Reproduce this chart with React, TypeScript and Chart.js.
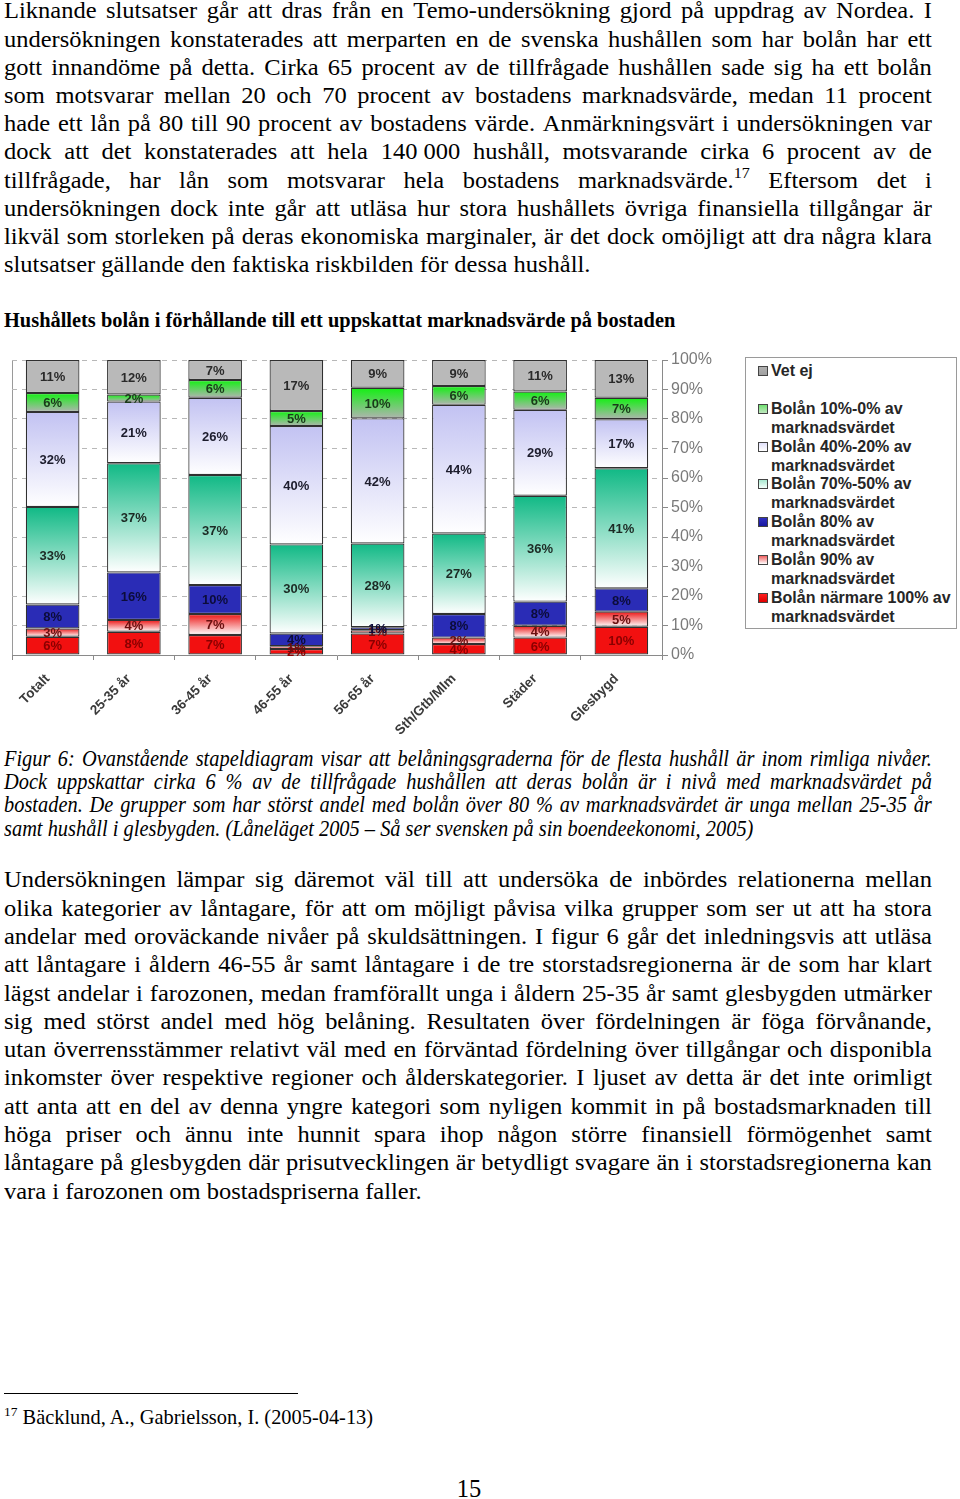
import React, { useEffect, useRef } from 'react';
import { Chart, registerables } from 'chart.js';

Chart.register(...registerables);

// ---------------- data ----------------
const categories = ['Totalt', '25-35 år', '36-45 år', '46-55 år', '56-65 år', 'Sth/Gtb/Mlm', 'Städer', 'Glesbygd'];

// shares in percent (bottom segment first)
const bolanNara100 = [6.2, 7.9, 6.8, 2.0, 7.3, 3.7, 5.9, 9.6];
const bolan90 = [2.8, 4.0, 7.1, 1.0, 1.1, 2.2, 4.0, 5.1];
const bolan80 = [8.1, 16.1, 9.8, 4.3, 1.0, 8.0, 8.2, 7.9];
const bolan70_50 = [33.1, 37.0, 37.3, 30.2, 28.4, 27.3, 35.9, 40.7];
const bolan40_20 = [32.2, 20.9, 26.2, 40.1, 42.4, 43.6, 29.1, 16.6];
const bolan10_0 = [6.4, 2.4, 6.0, 5.1, 10.4, 6.4, 6.2, 7.3];
const vetEj = [11.2, 11.7, 6.8, 17.3, 9.4, 8.8, 10.7, 12.8];

const seriesNames = [
  'Bolån närmare 100% av marknadsvärdet',
  'Bolån 90% av marknadsvärdet',
  'Bolån 80% av marknadsvärdet',
  'Bolån 70%-50% av marknadsvärdet',
  'Bolån 40%-20% av marknadsvärdet',
  'Bolån 10%-0% av marknadsvärdet',
  'Vet ej',
];
const seriesValues = [bolanNara100, bolan90, bolan80, bolan70_50, bolan40_20, bolan10_0, vetEj];
// [top colour, bottom colour] of each segment
const seriesFills: [string, string][] = [
  ['#f21010', '#f21010'],
  ['#ec1414', '#ffffff'],
  ['#2a2cb6', '#2a2cb6'],
  ['#10b985', '#ffffff'],
  ['#c2c2f2', '#ffffff'],
  ['#12f012', '#b0b4b0'],
  ['#b9b9b9', '#b9b9b9'],
];
const labelColors = ['#8a0000', '#6a1010', '#0c0c3a', '#1c2a24', '#1c1c2c', '#1a3a1a', '#2a2a2a'];
const legendSwatches = [
  'linear-gradient(#ff2020,#e00000)',
  'linear-gradient(#f06060,#ffffff)',
  'linear-gradient(#3030c0,#1818a0)',
  'linear-gradient(#a8e8d0,#f4fffa)',
  'linear-gradient(#e0e0fa,#ffffff)',
  'linear-gradient(#70e070,#c0e8c0)',
  'linear-gradient(#b0b0b0,#a0a0a0)',
];
const yTicks = [0, 10, 20, 30, 40, 50, 60, 70, 80, 90, 100];

// ---------------- text ----------------
const para1 = [
  'Liknande slutsatser går att dras från en Temo-undersökning gjord på uppdrag av Nordea. I',
  'undersökningen konstaterades att merparten en de svenska hushållen som har bolån har ett',
  'gott innandöme på detta. Cirka 65 procent av de tillfrågade hushållen sade sig ha ett bolån',
  'som motsvarar mellan 20 och 70 procent av bostadens marknadsvärde, medan 11 procent',
  'hade ett lån på 80 till 90 procent av bostadens värde. Anmärkningsvärt i undersökningen var',
  'dock att det konstaterades att hela 140\u00A0000 hushåll, motsvarande cirka 6 procent av de',
  'tillfrågade, har lån som motsvarar hela bostadens marknadsvärde.^17 Eftersom det i',
  'undersökningen dock inte går att utläsa hur stora hushållets övriga finansiella tillgångar är',
  'likväl som storleken på deras ekonomiska marginaler, är det dock omöjligt att dra några klara',
  'slutsatser gällande den faktiska riskbilden för dessa hushåll.',
];
const captionLines = [
  'Figur 6: Ovanstående stapeldiagram visar att belåningsgraderna för de flesta hushåll är inom rimliga nivåer.',
  'Dock uppskattar cirka 6 % av de tillfrågade hushållen att deras bolån är i nivå med marknadsvärdet på',
  'bostaden. De grupper som har störst andel med bolån över 80 % av marknadsvärdet är unga mellan 25-35 år',
  'samt hushåll i glesbygden. (Låneläget 2005 – Så ser svensken på sin boendeekonomi, 2005)',
];
const para2 = [
  'Undersökningen lämpar sig däremot väl till att undersöka de inbördes relationerna mellan',
  'olika kategorier av låntagare, för att om möjligt påvisa vilka grupper som ser ut att ha stora',
  'andelar med oroväckande nivåer på skuldsättningen. I figur 6 går det inledningsvis att utläsa',
  'att låntagare i åldern 46-55 år samt låntagare i de tre storstadsregionerna är de som har klart',
  'lägst andelar i farozonen, medan framförallt unga i åldern 25-35 år samt glesbygden utmärker',
  'sig med störst andel med hög belåning. Resultaten över fördelningen är föga förvånande,',
  'utan överrensstämmer relativt väl med en förväntad fördelning över tillgångar och disponibla',
  'inkomster över respektive regioner och ålderskategorier. I ljuset av detta är det inte orimligt',
  'att anta att en del av denna yngre kategori som nyligen kommit in på bostadsmarknaden till',
  'höga priser och ännu inte hunnit spara ihop någon större finansiell förmögenhet samt',
  'låntagare på glesbygden där prisutvecklingen är betydligt svagare än i storstadsregionerna kan',
  'vara i farozonen om bostadspriserna faller.',
];

const SERIF = '"Liberation Serif", "Times New Roman", serif';
const SANS = '"Liberation Sans", Arial, sans-serif';

// ---------------- chart helpers ----------------
function segmentFill(di: number) {
  return (ctx: any) => {
    const [top, bottom] = seriesFills[di];
    if (top === bottom) return top;
    const chart = ctx.chart;
    const y = chart.scales && chart.scales.y;
    if (!y || ctx.type !== 'data') return top;
    const i = ctx.dataIndex;
    let base = 0;
    for (let d = 0; d < di; d++) base += seriesValues[d][i];
    const v = seriesValues[di][i];
    const y0 = y.getPixelForValue(base + v);
    const y1 = y.getPixelForValue(base);
    if (!isFinite(y0) || !isFinite(y1) || y0 === y1) return top;
    const g = chart.ctx.createLinearGradient(0, y0, 0, y1);
    g.addColorStop(0, top);
    g.addColorStop(1, bottom);
    return g;
  };
}

const segmentLabels = {
  id: 'segmentLabels',
  afterDatasetsDraw(chart: any) {
    const ctx = chart.ctx;
    ctx.save();
    ctx.font = `bold 13px ${SANS}`;
    ctx.textAlign = 'center';
    ctx.textBaseline = 'middle';
    chart.data.datasets.forEach((ds: any, di: number) => {
      const meta = chart.getDatasetMeta(di);
      meta.data.forEach((bar: any, i: number) => {
        const v = ds.data[i];
        const p = bar.getProps(['x', 'y', 'base'], true);
        ctx.fillStyle = labelColors[di];
        ctx.fillText(Math.round(v) + '%', p.x, (p.y + p.base) / 2 + 1);
      });
    });
    ctx.restore();
  },
};

function StackedChart() {
  const ref = useRef<HTMLCanvasElement>(null);
  useEffect(() => {
    if (!ref.current) return;
    const chart = new Chart(ref.current, {
      type: 'bar',
      data: {
        labels: categories,
        datasets: seriesValues.map((vals, di) => ({
          label: seriesNames[di],
          data: vals,
          backgroundColor: segmentFill(di) as any,
          borderColor: '#303030',
          borderWidth: 1.2,
          borderSkipped: false,
          barPercentage: 0.66,
          categoryPercentage: 1,
        })),
      },
      options: {
        animation: false,
        responsive: false,
        devicePixelRatio: 1,
        layout: { padding: { left: 12, top: 20, right: 0, bottom: 0 } },
        plugins: { legend: { display: false }, tooltip: { enabled: false } },
        scales: {
          x: {
            stacked: true,
            afterFit: (s: any) => { s.height = 90; },
            grid: {
              display: true,
              offset: true,
              drawOnChartArea: true,
              color: (c: any) => (c.index === 0 ? '#9a9a9a' : 'rgba(0,0,0,0)'),
              tickColor: '#8a8a8a',
              tickLength: 5,
            },
            border: { display: true, color: '#8a8a8a', width: 1 },
            ticks: {
              autoSkip: false,
              maxRotation: 45,
              minRotation: 45,
              color: '#3a3a3a',
              font: { family: SANS, size: 13.5, weight: 'bold' },
              padding: 11,
              labelOffset: -5,
            },
          },
          y: {
            stacked: true,
            position: 'right',
            min: 0,
            max: 100,
            afterFit: (s: any) => { s.width = 58; },
            afterBuildTicks: (s: any) => { s.ticks = yTicks.map((v) => ({ value: v })); },
            grid: { color: '#b8b8b8', tickColor: '#8a8a8a', tickLength: 6, lineWidth: 1 },
            border: { display: true, color: '#8a8a8a', width: 1, dash: [5, 5] },
            ticks: {
              color: '#7a7a7a',
              font: { family: SANS, size: 16 },
              padding: 3,
              callback: (v: any) => v + '%',
            },
          },
        },
      },
      plugins: [segmentLabels],
    });
    return () => chart.destroy();
  }, []);
  return <canvas ref={ref} width={720} height={405} style={{ display: 'block', width: 720, height: 405 }} />;
}

// ---------------- text helpers ----------------
// top of a line box so that its baseline lands at `baseline`
const topFor = (baseline: number, f: number, lh: number) => baseline - lh / 2 - 0.3375 * f + 2.4;

function Word({ w, f }: { w: string; f: number }) {
  const k = w.indexOf('^');
  if (k < 0) return <>{w}</>;
  return (
    <>
      {w.slice(0, k)}
      <sup style={{ fontSize: f * 0.66, lineHeight: 0, verticalAlign: 0, position: 'relative', top: -f * 0.42 }}>{w.slice(k + 1)}</sup>
    </>
  );
}

function JLine({ text, baseline, f, lh, last, sx, style }: any) {
  const words: string[] = text.split(' ');
  return (
    <div
      style={{
        position: 'absolute',
        left: 4,
        width: 928 / sx,
        top: topFor(baseline, f, lh),
        height: lh,
        fontSize: f,
        lineHeight: lh + 'px',
        whiteSpace: 'pre',
        display: 'flex',
        justifyContent: last ? 'flex-start' : 'space-between',
        transform: `scaleX(${sx})`,
        transformOrigin: 'left top',
        ...style,
      }}
    >
      {last ? (
        <span>{text}</span>
      ) : (
        words.map((w, i) => (
          <span key={i}>
            <Word w={w} f={f} />
          </span>
        ))
      )}
    </div>
  );
}

export default function App() {
  const F = 22.8;
  const SX = 24.5 / 22.8;
  const LH = 28.2;
  const FS = 20.4;
  const FC = 22.6;
  const SXC = 20.4 / 22.6;
  return (
    <div style={{ position: 'relative', width: 960, height: 1499, background: '#fff', color: '#000', fontFamily: SERIF, overflow: 'hidden' }}>
      <style>{'body{margin:0;background:#fff;}'}</style>
      {para1.map((t, i) => (
        <JLine key={'p1' + i} text={t} baseline={16.7 + i * 28.2} f={F} sx={SX} lh={LH} last={i === para1.length - 1} />
      ))}

      <div style={{ position: 'absolute', left: 4, top: topFor(325.5, FS, 23.4), fontSize: FS, lineHeight: '23.4px', fontWeight: 'bold', whiteSpace: 'nowrap' }}>
        Hushållets bolån i förhållande till ett uppskattat marknadsvärde på bostaden
      </div>

      <div style={{ position: 'absolute', left: 0, top: 340 }}>
        <StackedChart />
      </div>

      <div
        style={{
          position: 'absolute',
          left: 745,
          top: 357,
          width: 210,
          height: 270,
          border: '1.5px solid #9a9a9a',
          background: '#fff',
          fontFamily: SANS,
          fontWeight: 'bold',
          fontSize: 16,
          color: '#262626',
        }}
      >
        {seriesNames
          .map((n, i) => ({ n, i }))
          .reverse()
          .map(({ n, i }, k) => {
            const parts = n === 'Vet ej' ? ['Vet ej', ''] : [n.replace(' marknadsvärdet', ''), 'marknadsvärdet'];
            return (
              <div key={n} style={{ position: 'absolute', left: 12, top: 3 + k * 37.8, lineHeight: '19px' }}>
                <span
                  style={{
                    position: 'absolute',
                    left: 0,
                    top: 5,
                    width: 8,
                    height: 8,
                    border: '1px solid #444',
                    background: legendSwatches[i],
                  }}
                />
                <div style={{ paddingLeft: 13, whiteSpace: 'nowrap' }}>{parts[0]}</div>
                <div style={{ paddingLeft: 13, whiteSpace: 'nowrap', height: 19 }}>{parts[1]}</div>
              </div>
            );
          })}
      </div>

      {captionLines.map((t, i) => (
        <JLine key={'c' + i} text={t} baseline={763.5 + i * 23.4} f={FC} sx={SXC} lh={23.4} last={i === captionLines.length - 1} style={{ fontStyle: 'italic' }} />
      ))}

      {para2.map((t, i) => (
        <JLine key={'p2' + i} text={t} baseline={885.7 + i * 28.3} f={F} sx={SX} lh={LH} last={i === para2.length - 1} />
      ))}

      <div style={{ position: 'absolute', left: 4, top: 1393, width: 294, height: 1, background: '#000' }} />
      <div style={{ position: 'absolute', left: 4, top: topFor(1422.5, FS, 23.4), fontSize: FS, lineHeight: '23.4px', whiteSpace: 'pre' }}>
        <Word w={'^17'} f={FS} /> Bäcklund, A., Gabrielsson, I. (2005-04-13)
      </div>

      <div style={{ position: 'absolute', left: 0, width: 938, textAlign: 'center', top: topFor(1495, 24.5, LH), fontSize: 24.5, lineHeight: LH + 'px' }}>15</div>
    </div>
  );
}
